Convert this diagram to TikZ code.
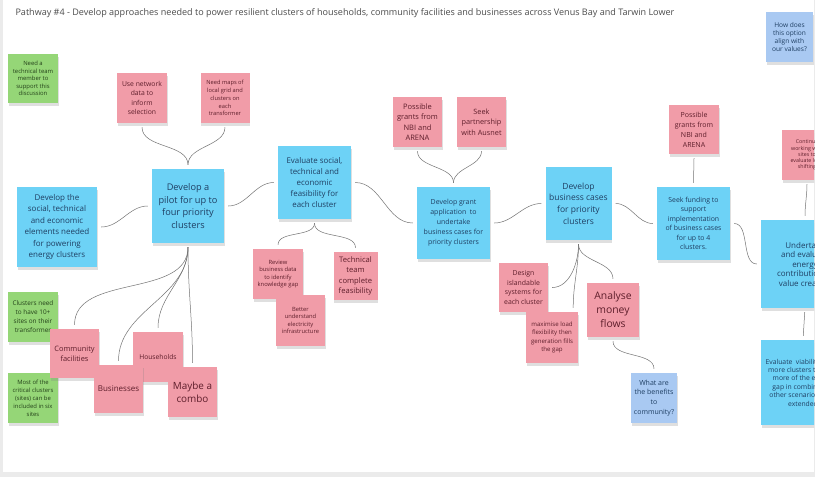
\documentclass[tikz,border=0pt]{standalone}
\usepackage{fontspec}
\setmainfont{Open Sans}
\usetikzlibrary{shadows}

\definecolor{stickyblue}{HTML}{6DD2F6}
\definecolor{stickypink}{HTML}{F19CA8}
\definecolor{stickygreen}{HTML}{95D677}
\definecolor{stickyask}{HTML}{A9C9F2}
\definecolor{inkblue}{HTML}{1F3F63}
\definecolor{inkred}{HTML}{5E1E2B}
\definecolor{inkgreen}{HTML}{24421A}
\definecolor{boardgrey}{HTML}{EBEBEB}

\tikzset{
  fs/.style 2 args={font=\fontsize{#1}{#2}\selectfont},
  sz/.style 2 args={minimum width=#1, minimum height=#2},
  sticky/.style={rectangle, inner sep=1pt, align=center,
    drop shadow={shadow xshift=0.5pt, shadow yshift=-3pt, opacity=0.25}},
  bluenote/.style={sticky, fill=stickyblue, text=inkblue},
  pinknote/.style={sticky, fill=stickypink, text=inkred},
  greennote/.style={sticky, fill=stickygreen, text=inkgreen},
  asknote/.style={sticky, fill=stickyask, text=inkblue},
  link/.style={draw=black!55, line width=0.5pt, shorten <=4pt, shorten >=4pt}
}

\begin{document}
\begin{tikzpicture}[x=1pt, y=-1pt]
\useasboundingbox (0,0) rectangle (815,477);
\fill[boardgrey] (0,0) rectangle (815,477);
\fill[white] (3,0) rectangle (814,472);

\begin{scope}
\clip (3,0) rectangle (814,472);

\node[anchor=west, fs={9.05}{11}, text=black!70] (title) at (12,13)
  {Pathway \#4 - Develop approaches needed to power resilient clusters of households, community facilities and businesses across Venus Bay and Tarwin Lower};

% main line of the pathway
\node[bluenote, sz={80pt}{80pt}, fs={8}{11.5}] (elements) at (57,227)
  {Develop the\\social, technical\\and economic\\elements needed\\for powering\\energy clusters};
\node[bluenote, sz={72pt}{74pt}, fs={9.2}{12.7}] (pilot) at (188,206)
  {Develop a\\pilot for up to\\four priority\\clusters};
\node[bluenote, sz={73pt}{73pt}, fs={7.9}{11}] (evaluate) at (314.5,182.5)
  {Evaluate social,\\technical and\\economic\\feasibility for\\each cluster};
\node[bluenote, sz={73pt}{72pt}, fs={7}{10}] (grant) at (453.5,223)
  {Develop grant\\application\ \ to\\undertake\\business cases for\\priority clusters};
\node[bluenote, sz={66pt}{73pt}, fs={8.5}{11.7}] (business) at (578.5,203.5)
  {Develop\\business cases\\for priority\\clusters};
\node[bluenote, sz={73pt}{73pt}, fs={6.9}{9.5}] (seekfund) at (693.5,223.5)
  {Seek funding to\\support\\implementation\\of business cases\\for up to 4\\clusters.};
\node[bluenote, sz={88pt}{88pt}, fs={8}{9.5}] (undertake) at (805,264)
  {Undertake\\and evaluate\\energy\\contribution to\\value creation};
\node[bluenote, sz={84pt}{85pt}, fs={6.8}{8.4}] (viability) at (803,382.5)
  {Evaluate\ \ viability of the\\more clusters to meet\\more of the energy\\gap in combination\\other scenarios to be\\extended};

% notes around the pilot
\node[greennote, sz={50pt}{49pt}, fs={5.9}{7.5}] (needtech) at (33,78.5)
  {Need a\\technical team\\member to\\support this\\discussion};
\node[pinknote, sz={50pt}{50pt}, fs={6.8}{9.5}] (usenet) at (142,98)
  {Use network\\data to\\inform\\selection};
\node[pinknote, sz={49pt}{50pt}, fs={5.7}{7.9}] (maps) at (225,98)
  {Need maps of\\local grid and\\clusters on\\each\\transformer};
\node[greennote, sz={50pt}{50pt}, fs={6.4}{9}] (tenplus) at (33,317)
  {Clusters need\\to have 10+\\sites on their\\transformer};
\node[greennote, sz={50pt}{50pt}, fs={5.9}{8}] (sixsites) at (33,398)
  {Most of the\\critical clusters\\(sites) can be\\included in six\\sites};
\node[pinknote, sz={49pt}{49pt}, fs={7.4}{10}] (community) at (74.5,353.5)
  {Community\\facilities};
\node[pinknote, sz={50pt}{50pt}, fs={6.7}{9}] (households) at (158,357)
  {Households};
\node[pinknote, sz={49pt}{48pt}, fs={8}{10}] (businesses) at (118.5,389)
  {Businesses};
\node[pinknote, sz={49pt}{50pt}, fs={9.9}{13.3}] (combo) at (192.5,392)
  {Maybe a\\combo};

% notes under the feasibility step
\node[pinknote, sz={50pt}{50pt}, fs={5.8}{7.5}] (review) at (278,274)
  {Review\\business data\\to identify\\knowledge gap};
\node[pinknote, sz={49pt}{51pt}, fs={5.8}{7.5}] (infra) at (300.5,320.5)
  {Better\\understand\\electricity\\infrastructure};
\node[pinknote, sz={44pt}{48pt}, fs={7.6}{10.5}] (techteam) at (355.5,276)
  {Technical\\team\\complete\\feasibility};

% funding notes
\node[pinknote, sz={49pt}{50pt}, fs={7.5}{10.5}] (grantsA) at (417.5,122)
  {Possible\\grants from\\NBI and\\ARENA};
\node[pinknote, sz={49pt}{50pt}, fs={7.3}{10.5}] (ausnet) at (481.5,122)
  {Seek\\partnership\\with Ausnet};
\node[pinknote, sz={50pt}{49pt}, fs={7}{10}] (grantsB) at (694,129.5)
  {Possible\\grants from\\NBI and\\ARENA};
\node[pinknote, sz={50pt}{50pt}, fs={5.3}{6.2}] (shifting) at (807,155)
  {Continue\\working with\\sites to\\evaluate load\\shifting};
\node[asknote, sz={47pt}{50pt}, fs={6.6}{7.8}] (values) at (789.5,37)
  {How does\\this option\\align with\\our values?};

% notes under the business cases
\node[pinknote, sz={49pt}{49pt}, fs={6.9}{9.5}] (island) at (523.5,287.5)
  {Design\\islandable\\systems for\\each cluster};
\node[pinknote, sz={52pt}{51pt}, fs={6.1}{8.3}] (flex) at (552,337.5)
  {maximise load\\flexibility then\\generation fills\\the gap};
\node[pinknote, sz={52pt}{54pt}, fs={10.4}{14}] (money) at (613,310)
  {Analyse\\money\\flows};
\node[asknote, sz={46pt}{50pt}, fs={7}{9.7}] (benefits) at (654,398)
  {What are\\the benefits\\to\\community?};

% connectors
\draw[link] (usenet.south) to[out=-90,in=90] (pilot.north);
\draw[link] (maps.south) to[out=-90,in=90] (pilot.north);
\draw[link] (elements.east) to[out=0,in=180] (pilot.west);
\draw[link] (pilot.east) to[out=0,in=180] (evaluate.west);
\draw[link] (evaluate.east) to[out=0,in=180] (grant.west);
\draw[link] (evaluate.south) to[out=-90,in=90] (review.north);
\draw[link] (evaluate.south) to[out=-90,in=90] (techteam.north);
\draw[link] (grantsA.south) to[out=-90,in=90] (grant.north);
\draw[link] (ausnet.south) to[out=-90,in=90] (grant.north);
\draw[link] (grant.east) to[out=0,in=180] (business.west);
\draw[link] (business.east) to[out=0,in=180] (seekfund.west);
\draw[link] (grantsB.south) to[out=-90,in=90] (seekfund.north);
\draw[link] (seekfund.east) to[out=0,in=180] (undertake.west);
\draw[link] (shifting.south) to[out=-90,in=90] (undertake.north);
\draw[link] (undertake.south) -- (viability.north);
\foreach \n in {community,households,businesses,combo}
  \draw[link] (pilot.south) to[out=-90,in=90] (\n.north);
\draw[link] (business.south) to[out=-90,in=0] (island.east);
\draw[link] (business.south) to[out=-90,in=90] ([xshift=-5pt]flex.north east);
\draw[link] (business.south) to[out=-90,in=90] (money.north);
\draw[link] (money.south) to[out=-90,in=90] (benefits.north);
\end{scope}
\end{tikzpicture}
\end{document}
